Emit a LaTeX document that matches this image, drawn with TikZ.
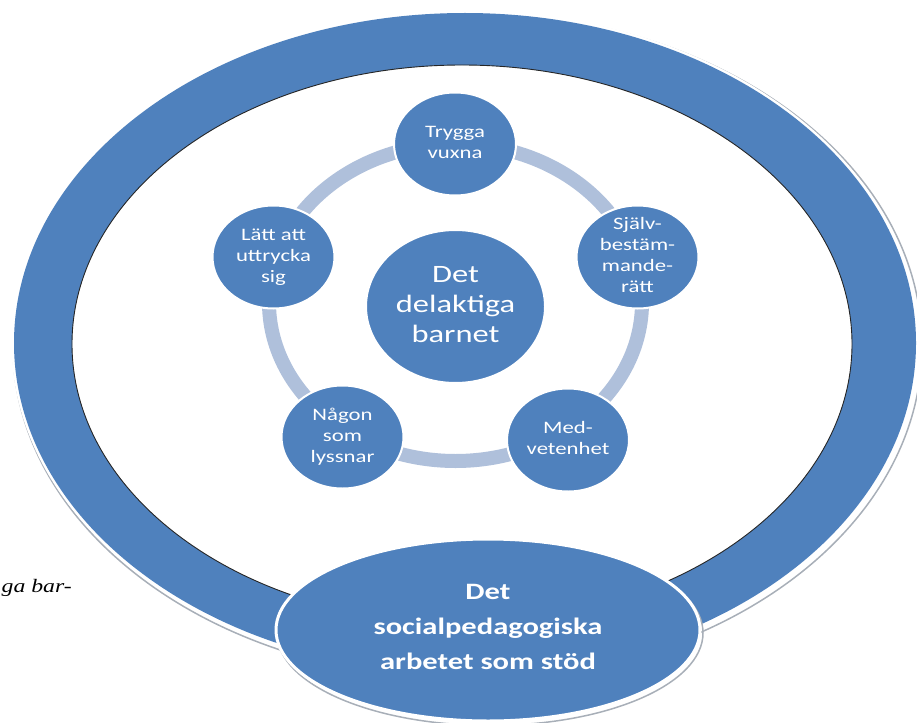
\documentclass[tikz,border=0pt]{standalone}
\usepackage{fontspec}
\setmainfont{Carlito}
\newfontfamily\capfont[ItalicFont={Liberation Serif Italic}]{Liberation Serif}
\usetikzlibrary{shapes.geometric}
\definecolor{mainblue}{HTML}{4F81BD}
\definecolor{ringblue}{HTML}{AFC0DB}
\definecolor{edgegray}{HTML}{A8AFB8}
\newcommand\stretchtxt[1]{\scalebox{1.3}[1]{\begin{tabular}{@{}c@{}}#1\end{tabular}}}
\begin{document}
\begin{tikzpicture}[x=1pt,y=-1pt,
  blob/.style={ellipse, fill=mainblue, draw=white, line width=2pt, inner sep=0pt},
  small/.style={blob, minimum width=122pt, minimum height=103pt},
  smalltxt/.style={text=white, inner sep=0pt, font=\fontsize{17.5}{21}\selectfont},
  bigtxt/.style={text=white, inner sep=0pt, font=\fontsize{25}{30}\selectfont},
  bottxt/.style={text=white, inner sep=0pt, font=\bfseries\fontsize{23.5}{35}\selectfont}]
\useasboundingbox (0,0) rectangle (917,722);
\clip (0,0) rectangle (917,722);
% outer donut
\draw[edgegray, line width=1.5pt] (467.5,346) ellipse [x radius=454.5, y radius=333.5];
\fill[white] (465,343) ellipse [x radius=453.5, y radius=332.5];
\fill[mainblue, even odd rule] (465,343) ellipse [x radius=451, y radius=330]
      (462,344) ellipse [x radius=390, y radius=279];
\draw[black!85, line width=0.9pt] (462,344) ellipse [x radius=390, y radius=279];
% cycle ring
\draw[ringblue, line width=14pt] (455.5,302.5) ellipse [x radius=186.5, y radius=158.5];
% circles
\node[small] (tr) at (455,144) {};
\node[small] (sj) at (637.5,257) {};
\node[small] (me) at (568,440) {};
\node[small] (na) at (342.5,437) {};
\node[small] (la) at (273.5,257) {};
\node[blob, minimum width=179pt, minimum height=153pt] (ce) at (455.5,306.5) {};
% bottom ellipse
\node[ellipse, draw=edgegray, line width=1.5pt, minimum width=426pt, minimum height=185pt, inner sep=0pt] (bsh) at (490,633) {};
\node[blob, line width=3pt, minimum width=424pt, minimum height=182pt] (bot) at (488,630) {};
% texts
\node[smalltxt] (tr-t) at (tr) {\stretchtxt{Trygga\\vuxna}};
\node[smalltxt] (sj-t) at (sj) {\stretchtxt{Själv-\\bestäm-\\mande-\\rätt}};
\node[smalltxt] (me-t) at (me) {\stretchtxt{Med-\\vetenhet}};
\node[smalltxt] (na-t) at (na) {\stretchtxt{Någon\\som\\lyssnar}};
\node[smalltxt] (la-t) at (la) {\stretchtxt{Lätt att\\uttrycka\\sig}};
\node[bigtxt] (ce-t) at (ce) {\stretchtxt{Det\\delaktiga\\barnet}};
\node[bottxt] (bot-t) at (488,627) {\stretchtxt{Det\\socialpedagogiska\\arbetet som stöd}};
% caption fragment
\node[anchor=base east, inner sep=0pt, font=\capfont\itshape\fontsize{19}{22}\selectfont] (cap) at (72,592) {\scalebox{1.25}[1]{ga bar-}};
\end{tikzpicture}
\end{document}
